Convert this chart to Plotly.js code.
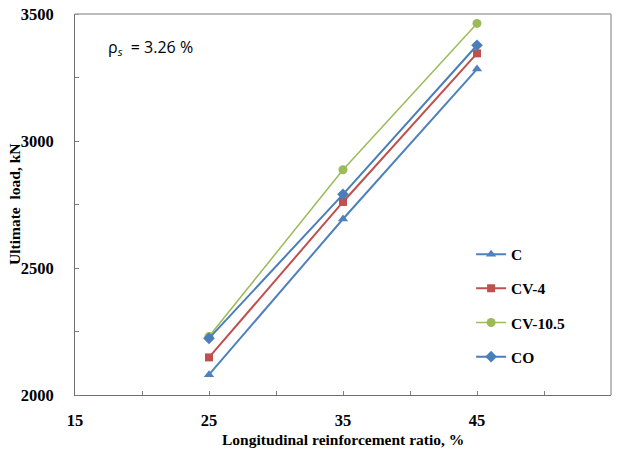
<!DOCTYPE html>
<html>
<head>
<meta charset="utf-8">
<script src="https://cdn.plot.ly/plotly-3.0.1.min.js"></script>
<style>html,body{margin:0;padding:0;background:#fff;}#chart{width:619px;height:450px;}</style>
</head>
<body>
<div id="chart"></div>
<script>
const ratios = [25, 35, 45];
const seriesNames = ["C", "CV-4", "CV-10.5", "CO"];
const loadC = [2080, 2693, 3283];
const loadCV4 = [2148, 2760, 3345];
const loadCV105 = [2230, 2887, 3463];
const loadCO = [2223, 2790, 3377];
const xTickVals = [15, 25, 35, 45, 55];
const yTickVals = [2000, 2500, 3000, 3500];

const serif = "'Liberation Serif', 'Times New Roman', serif";
const styles = [
  {color: "#4F81BD", symbol: "triangle-up", size: 9, width: 2},
  {color: "#C0504D", symbol: "square", size: 8, width: 2},
  {color: "#9BBB59", symbol: "circle", size: 9, width: 1.5},
  {color: "#4A7EBB", symbol: "diamond", size: 9, width: 2}
];
const values = [loadC, loadCV4, loadCV105, loadCO];
const traces = values.map((v, i) => ({
  x: ratios, y: v, name: "<b>" + seriesNames[i] + "</b>", type: "scatter", mode: "lines+markers",
  line: {color: styles[i].color, width: styles[i].width},
  marker: {color: styles[i].color, symbol: styles[i].symbol, size: styles[i].size},
  legendgroup: "g" + i
}));

const layout = {
  width: 619, height: 450,
  margin: {l: 75, r: 8, t: 14, b: 55},
  paper_bgcolor: "#fff", plot_bgcolor: "#fff",
  showlegend: true,
  legend: {x: 0.739, y: 0.413, xanchor: "left", yanchor: "top",
    font: {family: serif, size: 15.5, color: "#000"},
    tracegroupgap: 11, itemwidth: 30, bgcolor: "rgba(0,0,0,0)"},
  xaxis: {range: [15, 55], tickvals: xTickVals, ticktext: xTickVals.map(v => "<b>" + v + "</b>"),
    ticks: "inside", ticklen: 4, tickcolor: "#808080",
    minor: {ticks: "inside", dtick: 5, tick0: 15, ticklen: 4, tickcolor: "#808080"},
    showgrid: false, zeroline: false, showline: true, linecolor: "#6e6e6e", linewidth: 1,
    tickfont: {family: serif, size: 16.5, color: "#000"},
    ticklabelstandoff: 10},
  yaxis: {range: [2000, 3500], tickvals: yTickVals, ticktext: yTickVals.map(v => "<b>" + v + "</b>"),
    ticks: "",
    minor: {ticks: "inside", dtick: 250, tick0: 2000, ticklen: 4, tickcolor: "#808080"},
    showgrid: false, zeroline: false, showline: true, linecolor: "#6e6e6e", linewidth: 1,
    tickfont: {family: serif, size: 16.5, color: "#000"},
    ticklabelstandoff: 17},
  shapes: [
    {type: "line", xref: "paper", yref: "paper", x0: 0, x1: 1, y0: 1, y1: 1, line: {color: "#a6a6a6", width: 1.5}},
    {type: "line", xref: "paper", yref: "paper", x0: 1, x1: 1, y0: 0, y1: 1, line: {color: "#a6a6a6", width: 1.5}}
  ],
  annotations: [
    {xref: "paper", yref: "paper", x: 0.058, y: 0.913, xanchor: "left", yanchor: "middle", showarrow: false,
     text: "ρ<sub><i>s</i></sub>  = 3.26 %", font: {family: "'Open Sans', 'Liberation Sans', sans-serif", size: 16, color: "#000"}},
    {xref: "paper", yref: "paper", x: 0.5, y: -0.118, xanchor: "center", yanchor: "middle", showarrow: false,
     text: "<b>Longitudinal reinforcement ratio, %</b>", font: {family: serif, size: 15.5, color: "#000"}},
    {xref: "paper", yref: "paper", x: -0.113, y: 0.5, xanchor: "center", yanchor: "middle", showarrow: false, textangle: -90,
     text: "<b>Ultimate  load, kN</b>", font: {family: serif, size: 15.5, color: "#000"}}
  ]
};
Plotly.newPlot("chart", traces, layout, {displayModeBar: false, staticPlot: true});
</script>
</body>
</html>
